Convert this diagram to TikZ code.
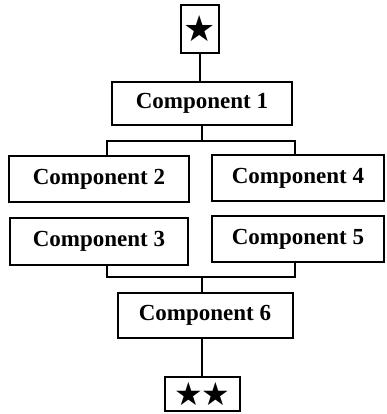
\documentclass[tikz,border=0pt]{standalone}
\usepackage{fontspec}
\setmainfont{Liberation Serif}
\newfontfamily\symfont{DejaVu Sans}
\usepackage{tikz}

\begin{document}
\begin{tikzpicture}[x=1pt,y=-1pt,line width=2pt,
  comp/.style = {draw,rectangle,inner sep=0pt,font=\fontsize{23}{26}\selectfont\bfseries},
  starbox/.style = {draw,rectangle,inner sep=0pt,font=\symfont\fontsize{36}{36}\selectfont}]
\useasboundingbox (0,0) rectangle (386,414);
\node[starbox,minimum width=38pt,minimum height=48pt] (S1) at (200,29) {★};
\node[comp,minimum width=180pt,minimum height=43pt] (C1) at (202,103.5) {Component 1};
\node[comp,minimum width=180pt,minimum height=46pt] (C2) at (99,179) {Component 2};
\node[comp,minimum width=178pt,minimum height=47pt] (C3) at (99,241) {Component 3};
\node[comp,minimum width=172pt,minimum height=46pt] (C4) at (298,178) {Component 4};
\node[comp,minimum width=172pt,minimum height=46pt] (C5) at (298,239) {Component 5};
\node[comp,minimum width=175pt,minimum height=45pt] (C6) at (205,315) {Component 6};
\node[starbox,minimum width=75pt,minimum height=34pt,font=\symfont\fontsize{32}{32}\selectfont] (S2) at (202,394) {★\kern-2pt★};

\coordinate (TL) at (107,141);
\coordinate (TR) at (295,141);
\coordinate (BL) at (107,277);
\coordinate (BR) at (295,277);

\draw (S1) -- (S1 |- C1.north);
\draw (C1) -- (C1 |- TL);
\draw (C2.north -| TL) -- (TL) -- (TR) -- (C4.north -| TR);
\draw (C3.south -| BL) -- (BL) -- (BR) -- (C5.south -| BR);
\draw (S2 |- BL) -- (S2 |- C6.north);
\draw (S2 |- C6.south) -- (S2);
\end{tikzpicture}
\end{document}
